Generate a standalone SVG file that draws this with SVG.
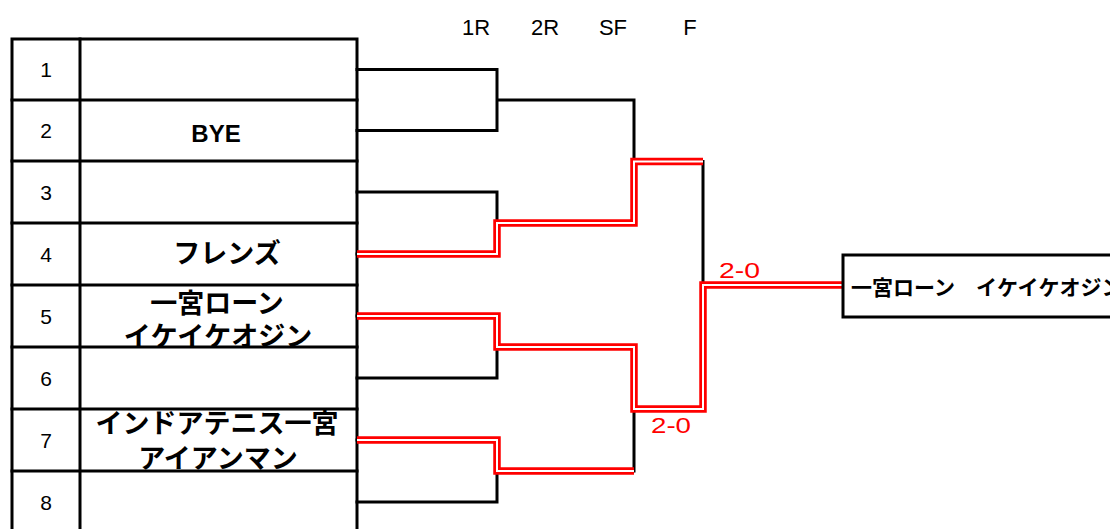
<svg xmlns="http://www.w3.org/2000/svg" width="1110" height="529" viewBox="0 0 1110 529">
<style>
.ln{fill:none;stroke:#000;stroke-width:3;stroke-linecap:square}
.tb{fill:#fff;stroke:#000;stroke-width:3}
.rd{fill:none;stroke:#ff0000;stroke-width:7.5;stroke-linejoin:miter;stroke-linecap:butt}
.wh{fill:none;stroke:#fff;stroke-width:2;stroke-linejoin:miter;stroke-linecap:butt}
.hd{font-family:"Liberation Sans","Noto Sans CJK JP",sans-serif;font-size:22px;fill:#000;text-anchor:middle}
.no{font-family:"Liberation Sans","Noto Sans CJK JP",sans-serif;font-size:21px;fill:#000;text-anchor:middle}
.nm{font-family:"Liberation Sans","Noto Sans CJK JP",sans-serif;font-size:27px;font-weight:700;fill:#000;text-anchor:middle}
.sc{font-family:"Liberation Sans","Noto Sans CJK JP",sans-serif;font-size:22px;fill:#ff0000}
</style>
<rect width="1110" height="529" fill="#fff"/>
<g id="headers">
<text class="hd" x="476" y="35">1R</text>
<text class="hd" x="545" y="35">2R</text>
<text class="hd" x="613" y="35">SF</text>
<text class="hd" x="690" y="35">F</text>
</g>
<g id="table">
<rect class="tb" x="12" y="39" width="345" height="500"/>
<path class="ln" d="M80 39V539M12 100H357M12 161H357M12 223H357M12 285H357M12 347H357M12 409H357M12 471H357"/>
</g>
<g id="seed1"><text class="no" x="46" y="77">1</text></g>
<g id="seed2"><text class="no" x="46" y="138">2</text><text class="nm" x="216" y="142" style="font-size:24px">BYE</text></g>
<g id="seed3"><text class="no" x="46" y="200">3</text></g>
<g id="seed4"><text class="no" x="46" y="262">4</text><text class="nm" x="227" y="263">フレンズ</text></g>
<g id="seed5"><text class="no" x="46" y="324">5</text><text class="nm" x="217" y="313">一宮ローン</text><text class="nm" x="218" y="346">イケイケオジン</text></g>
<g id="seed6"><text class="no" x="46" y="386">6</text></g>
<g id="seed7"><text class="no" x="46" y="448">7</text><text class="nm" x="217" y="433">インドアテニス一宮</text><text class="nm" x="218" y="468">アイアンマン</text></g>
<g id="seed8"><text class="no" x="46" y="510">8</text></g>
<g id="connectors">
<path class="ln" d="M357 69.5H497V130.5H357M497 100H634V161.5"/>
<path class="ln" d="M357 192H497V254H357"/>
<path class="ln" d="M357 316H497V378H357"/>
<path class="ln" d="M357 440H497V502H357"/>
<path class="ln" d="M497 223H634V161.5H703V285M497 347H634V471H497M634 409H703V285H843"/>
<path class="rd" d="M357 254H497V223H634V161.5H703"/>
<path class="rd" d="M357 316H497V347H634V409H703V285H843"/>
<path class="rd" d="M357 440H497V471H634"/>
<path class="wh" d="M357 254H497V223H634V161.5H703"/>
<path class="wh" d="M357 316H497V347H634V409H703V285H843"/>
<path class="wh" d="M357 440H497V471H634"/>
</g>
<g id="scores">
<text class="sc" x="719" y="278" textLength="41" lengthAdjust="spacingAndGlyphs">2-0</text>
<text class="sc" x="651" y="433" textLength="40" lengthAdjust="spacingAndGlyphs">2-0</text>
</g>
<g id="winner">
<rect class="tb" x="843" y="255" width="290" height="62"/>
<text class="nm" x="851" y="295" style="font-size:21px;text-anchor:start">一宮ローン　イケイケオジン</text>
</g>
</svg>
